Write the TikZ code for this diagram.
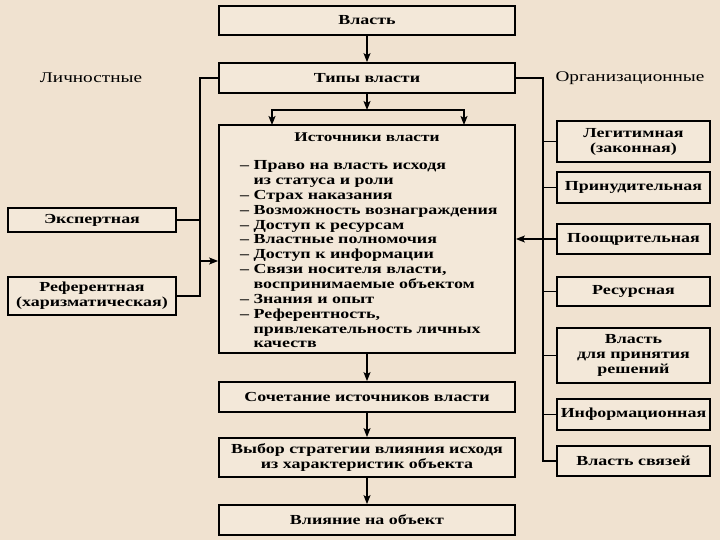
\documentclass[tikz,border=0pt]{standalone}
\usepackage{fontspec}
\setmainfont{Liberation Serif}[FakeStretch=1.30]
\usetikzlibrary{arrows.meta,positioning,calc}
\definecolor{paper}{RGB}{240,226,208}
\definecolor{boxfill}{RGB}{243,232,217}
\newcommand{\contind}{\phantom{– }}
\tikzset{
  box/.style={draw, line width=1.8pt, fill=boxfill, align=center, inner sep=0pt,
    font=\fontsize{13.8}{15}\selectfont\bfseries},
  headtxt/.style={font=\fontsize{14.8}{15}\selectfont},
  srclist/.style={align=left, inner sep=0pt, font=\fontsize{13.8}{14.85}\selectfont\bfseries},
  link/.style={line width=1.3pt},
  arr/.style={link, -{Stealth[length=9pt,width=7pt,inset=2pt]}},
}
\begin{document}
\begin{tikzpicture}[x=1pt,y=-1pt]
\fill[paper] (0,0) rectangle (720,540);
\useasboundingbox (0,0) rectangle (720,540);
% central column
\node[box, minimum width=296pt, minimum height=29pt] (vlast) at (367,20.5) {Власть};
\node[box, minimum width=296pt, minimum height=30pt] (tipy) at (367,78) {Типы власти};
\node[box, minimum width=296pt, minimum height=228pt] (ist) at (367,239) {};
\node[font=\fontsize{13.3}{14}\selectfont\bfseries] (isttitle) at (367,137) {Источники власти};
\node[srclist, anchor=north west] (srcs) at (240,160.5) {%
– Право на власть исходя\\
\contind из статуса и роли\\
– Страх наказания\\
– Возможность вознаграждения\\
– Доступ к ресурсам\\
– Властные полномочия\\
– Доступ к информации\\
– Связи носителя власти,\\
\contind воспринимаемые объектом\\
– Знания и опыт\\
– Референтность,\\
\contind привлекательность личных\\
\contind качеств};
\node[box, minimum width=296pt, minimum height=30pt] (soch) at (367,397) {Сочетание источников власти};
\node[box, minimum width=296pt, minimum height=39pt] (vybor) at (367,457.5) {Выбор стратегии влияния исходя\\из характеристик объекта};
\node[box, minimum width=296pt, minimum height=30pt] (vliyanie) at (367,520) {Влияние на объект};
% left: personal
\node[headtxt] (lichn) at (91,78) {Личностные};
\node[box, minimum width=168pt, minimum height=24pt] (eksp) at (92,220) {Экспертная};
\node[box, minimum width=168pt, minimum height=38pt] (refer) at (92,296) {Референтная\\(харизматическая)};
% right: organisational
\node[headtxt] (org) at (630,78) {Организационные};
\node[box, minimum width=153pt, minimum height=41pt] (legit) at (633.5,141.5) {Легитимная\\(законная)};
\node[box, minimum width=153pt, minimum height=31pt] (prinud) at (633.5,187.5) {Принудительная};
\node[box, minimum width=153pt, minimum height=30pt] (pooshch) at (633.5,239) {Поощрительная};
\node[box, minimum width=153pt, minimum height=29pt] (resurs) at (633.5,291.5) {Ресурсная};
\node[box, minimum width=153pt, minimum height=55pt] (reshen) at (633.5,355.5) {Власть\\для принятия\\решений};
\node[box, minimum width=153pt, minimum height=31pt] (inform) at (633.5,414.5) {Информационная};
\node[box, minimum width=153pt, minimum height=30pt] (svyaz) at (633.5,461) {Власть связей};
% bus points
\coordinate (split) at (367,110);
\coordinate (lbus) at (200,78);
\coordinate (rbus) at (543,78);
% central arrows
\draw[arr] (vlast) -- (tipy);
\draw[arr] (tipy) -- (split);
\draw[arr] (split) -- (272,110) -- (272,125);
\draw[arr] (split) -- (464,110) -- (464,125);
\draw[arr] (ist) -- (soch);
\draw[arr] (soch) -- (vybor);
\draw[arr] (vybor) -- (vliyanie);
% left bus
\draw[link] (tipy.west) -- (lbus) |- (refer.east);
\draw[link] (eksp.east) -- (lbus |- eksp.east);
\draw[arr] (200,261) -- (ist.west |- 0,261);
% right bus
\draw[link] (tipy.east) -- (rbus) |- (svyaz.west);
\foreach \b in {legit,prinud,resurs,reshen,inform}
  \draw[link] (\b.west) -- (rbus |- \b.west);
\draw[arr] (pooshch.west) -- (ist.east |- pooshch.west);
\end{tikzpicture}
\end{document}
